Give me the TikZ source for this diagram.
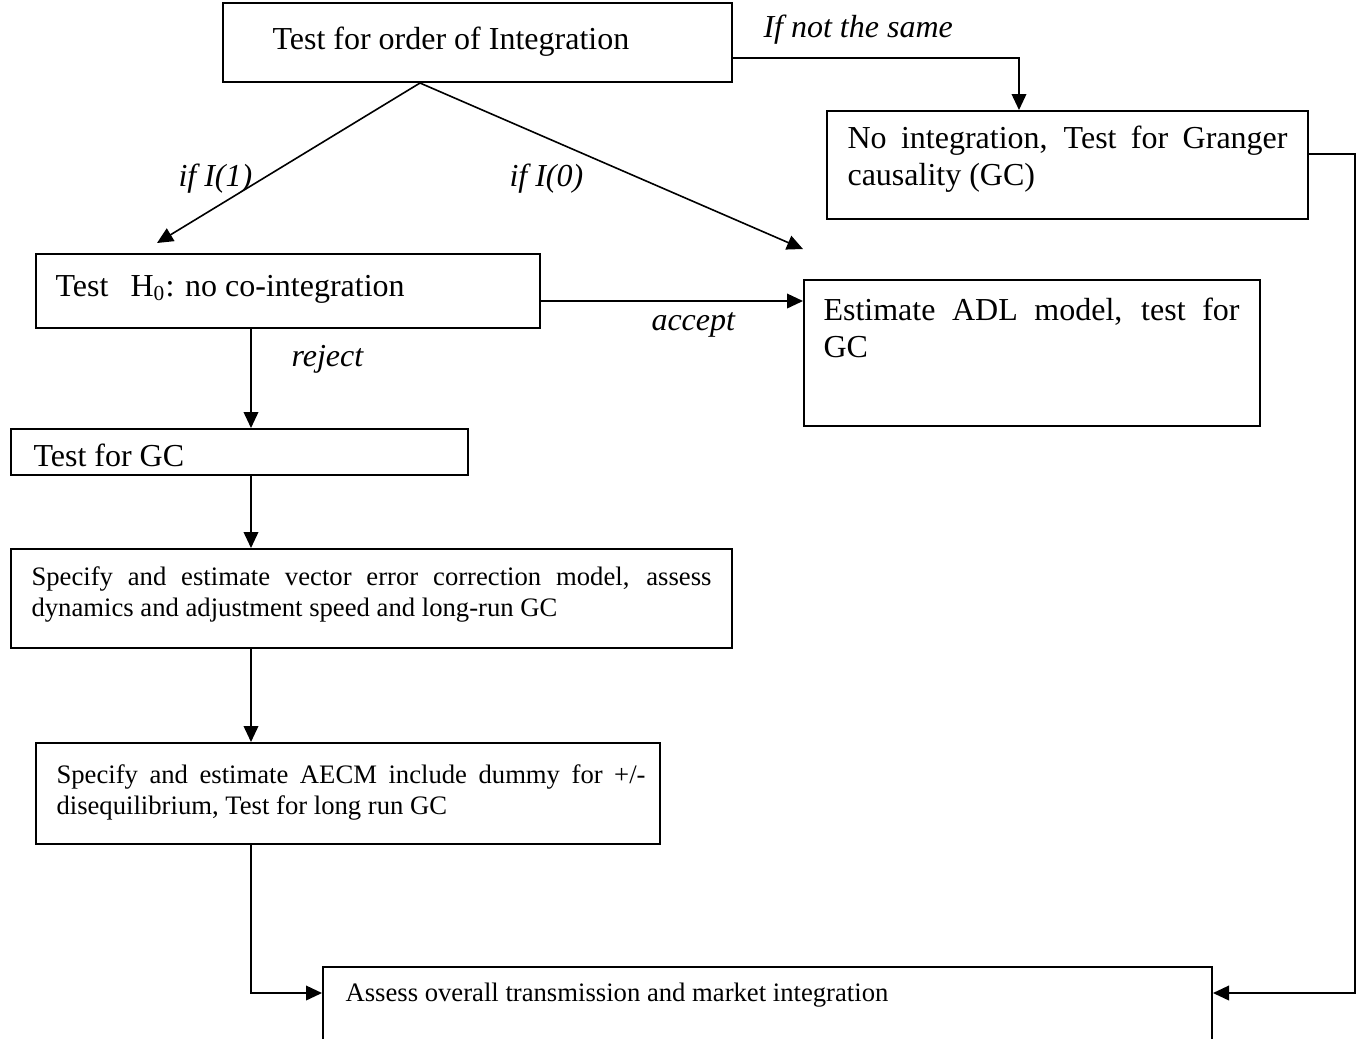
\documentclass[tikz,border=0pt]{standalone}
\usepackage{fontspec}
\setmainfont{Liberation Serif}
\usetikzlibrary{arrows.meta}
\newlength\px \setlength\px{0.375pt}
\tikzset{
  box/.style={draw, line width=0.75pt, anchor=north west, inner sep=0pt},
  arr/.style={line width=0.6pt, -{Triangle[length=6pt,width=5.5pt]}},
  link/.style={line width=0.6pt},
  big/.style={font=\fontsize{12}{13.8}\selectfont, inner sep=0pt},
  small/.style={font=\fontsize{10}{11.5}\selectfont, inner sep=0pt},
  cond/.style={font=\fontsize{12}{13.8}\selectfont\itshape, inner sep=0pt, anchor=base west}
}

\begin{document}
\begin{tikzpicture}[x=\px, y=-\px]
  \useasboundingbox (0,0) rectangle (1361,1038);

  % boxes
  \node[box, minimum width=509\px, minimum height=79\px]  (order)  at (222,2)   {};
  \node[box, minimum width=481\px, minimum height=108\px] (gc)     at (826,110) {};
  \node[box, minimum width=504\px, minimum height=74\px]  (h0)     at (35,253)  {};
  \node[box, minimum width=456\px, minimum height=146\px] (adl)    at (803,279) {};
  \node[box, minimum width=457\px, minimum height=46\px]  (gct)    at (10,428)  {};
  \node[box, minimum width=721\px, minimum height=99\px]  (vecm)   at (10,548)  {};
  \node[box, minimum width=624\px, minimum height=101\px] (aecm)   at (35,742)  {};
  \node[box, minimum width=889\px, minimum height=100\px] (assess) at (322,966) {};

  % texts
  \node[big, anchor=base west] (ordertxt) at (272,49) {Test for order of Integration};
  \node[big, anchor=north west, align=left] (gctxt) at (847,122)
    {\strut\makebox[440\px][s]{No integration, Test for Granger}\\causality (GC)};
  \node[big, anchor=base west] (h0txt) at (55,296)
    {\makebox[75\px][l]{Test}H\textsubscript{0}: no co-integration};
  \node[big, anchor=north west, align=left] (adltxt) at (823,294)
    {\strut\makebox[416\px][s]{Estimate ADL model, test for}\\GC};
  \node[big, anchor=base west] (gcttxt) at (33,466) {Test for GC};
  \node[small, anchor=north west, align=left] (vecmtxt) at (31,563.5)
    {\strut\makebox[680\px][s]{Specify and estimate vector error correction model, assess}\\dynamics and adjustment speed and long-run GC};
  \node[small, anchor=north west, align=left] (aecmtxt) at (56,761.5)
    {\strut\makebox[589\px][s]{Specify and estimate AECM include dummy for +/-}\\disequilibrium, Test for long run GC};
  \node[small, anchor=base west] (assesstxt) at (345,1001) {Assess overall transmission and market integration};

  % conditions
  \node[cond] (notsame) at (763,37)  {If not the same};
  \node[cond] (ifone)   at (178,186) {if I(1)};
  \node[cond] (ifzero)  at (509,186) {if I(0)};
  \node[cond] (accept)  at (651,330) {accept};
  \node[cond] (reject)  at (291,366) {reject};

  % helper points
  \coordinate (split) at ([xshift=-57.5\px]order.south);
  \coordinate (spine) at (251,0);
  \coordinate (acc)   at ([yshift=-10\px]h0.east);
  \coordinate (gcout) at ([yshift=11\px]gc.east);
  \coordinate (rail)  at (1355,993);
  \coordinate (lvl)   at (0,993);

  % connectors
  \draw[arr] ([yshift=-15.5\px]order.east) -| ([xshift=-48.5\px]gc.north);
  \draw[arr] (split) -- ([shift={(122\px,10\px)}]h0.north west);
  \draw[arr] (split) -- ([yshift=30\px]adl.north west);
  \draw[arr] (acc) -- (acc -| adl.west);
  \draw[arr] (h0.south -| spine) -- (gct.north -| spine);
  \draw[arr] (gct.south -| spine) -- (vecm.north -| spine);
  \draw[arr] (vecm.south -| spine) -- (aecm.north -| spine);
  \draw[arr] (aecm.south -| spine) |- (lvl -| assess.west);
  \draw[arr] (gcout) -| (rail) -- (lvl -| assess.east);
\end{tikzpicture}
\end{document}
